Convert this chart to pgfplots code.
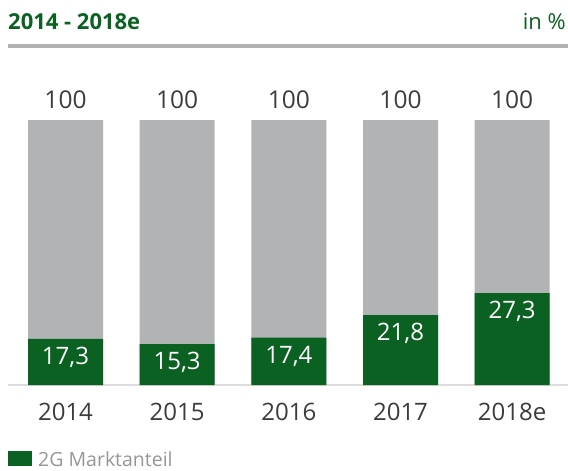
\documentclass[border=0pt]{standalone}
\usepackage{pgfplots}
\pgfplotsset{compat=1.18}
\usepackage{fontspec}
\setmainfont{Open Sans}
\definecolor{dgreen}{RGB}{11,97,33}
\definecolor{bargray}{RGB}{178,179,181}
\definecolor{rulegray}{RGB}{178,178,178}
\definecolor{basegray}{RGB}{220,220,220}
\definecolor{txtgray}{RGB}{60,60,60}
\definecolor{leggray}{RGB}{150,150,150}

\pgfplotstableread{
x y
0 100
1 100
2 100
3 100
4 100
}\totaldata
\pgfplotstableread{
x y lab
0 17.36 {17,3}
1 15.47 {15,3}
2 17.85 {17,4}
3 26.4 {21,8}
4 34.7 {27,3}
}\gdata

\begin{document}
\begin{tikzpicture}[x=1pt,y=1pt]
\useasboundingbox (0,0) rectangle (568,-471);
\draw[rulegray, line width=4pt] (8,-45.5) -- (568,-45.5);
\node[anchor=base west, inner sep=0, font=\fontsize{22}{24}\selectfont\bfseries, text=dgreen] at (8,-30) {2014 - 2018e};
\node[anchor=base east, inner sep=0, font=\fontsize{22}{24}\selectfont, text=dgreen] at (566,-30) {in \%};
\draw[basegray, line width=2pt] (8,-385) -- (568,-385);
\begin{axis}[
  at={(8pt,-385pt)}, anchor=south west,
  scale only axis, width=560pt, height=339.2pt,
  xmin=-0.515, xmax=4.5, ymin=0, ymax=128,
  axis line style={draw=none},
  /pgf/number format/assume math mode=true,
  ytick=\empty,
  xtick={0,1,2,3,4},
  xticklabels={2014,2015,2016,2017,2018e},
  major tick length=0pt,
  xticklabel style={anchor=base, yshift=-35pt, text=txtgray, font=\fontsize{24}{26}\selectfont},
  ybar, bar width=75pt,
  clip=false,
]
\addplot[fill=bargray, draw=none, bar shift=0pt,
  nodes near coords,
  every node near coord/.append style={anchor=base, yshift=12pt, text=txtgray, font=\fontsize{24.5}{26}\selectfont}]
  table[x=x, y=y] {\totaldata};
\addplot[fill=dgreen, draw=none, bar shift=0pt,
  point meta=explicit symbolic,
  nodes near coords,
  every node near coord/.append style={anchor=base, yshift=-25.6pt, text=white, font=\fontsize{24}{26}\selectfont}]
  table[x=x, y=y, meta=lab] {\gdata};
\end{axis}
\fill[dgreen] (8,-451) rectangle (32,-466);
\node[anchor=base west, inner sep=0, font=\fontsize{19.5}{22}\selectfont, text=leggray] at (38,-466) {2G Marktanteil};
\end{tikzpicture}
\end{document}
